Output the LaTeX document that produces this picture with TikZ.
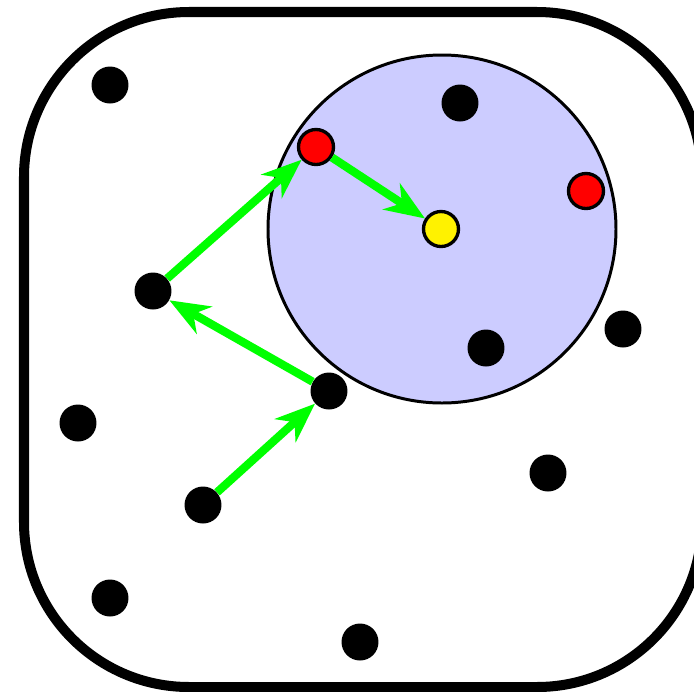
\documentclass[tikz,border=0pt]{standalone}
\usetikzlibrary{arrows.meta}
\definecolor{Lavande}{RGB}{204,204,255}
\definecolor{Vert}{RGB}{0,255,0}
\tikzset{point/.style={circle, fill=black, inner sep=0pt, minimum size=0.74cm}}
\tikzset{pointr/.style={point, draw=black, fill=red, line width=1.9pt, minimum size=0.7cm}}
\tikzset{pointj/.style={pointr, fill=yellow}}
\tikzset{fl/.style={-{Stealth[length=0.8cm, width=0.62cm, inset=0.25cm]}, draw=Vert, line width=4.7pt}}

\begin{document}
\begin{tikzpicture}[x=0.02cm, y=-0.02cm]
\useasboundingbox (0,0) rectangle (694,691);
\draw[line width=5.7pt, rounded corners=3.3cm] (24,12) rectangle (702,687);
\draw[line width=1.7pt, fill=Lavande] (442,229) circle (174);
\node[point] (a) at (110,85) {};
\node[point] (b) at (460,103) {};
\node[pointr] (r1) at (316,147) {};
\node[pointr] (r2) at (586,191) {};
\node[pointj] (cible) at (441,229) {};
\node[point] (c) at (153,291) {};
\node[point] (d) at (623,329) {};
\node[point] (e) at (486,348) {};
\node[point] (f) at (329,391) {};
\node[point] (g) at (78,423) {};
\node[point] (h) at (548,473) {};
\node[point] (dep) at (203,505) {};
\node[point] (i) at (110,598) {};
\node[point] (j) at (360,642) {};
\draw[fl] (dep)--(f); \draw[fl] (f)--(c);
\draw[fl] (c)--(r1); \draw[fl] (r1)--(cible);
\end{tikzpicture}
\end{document}
